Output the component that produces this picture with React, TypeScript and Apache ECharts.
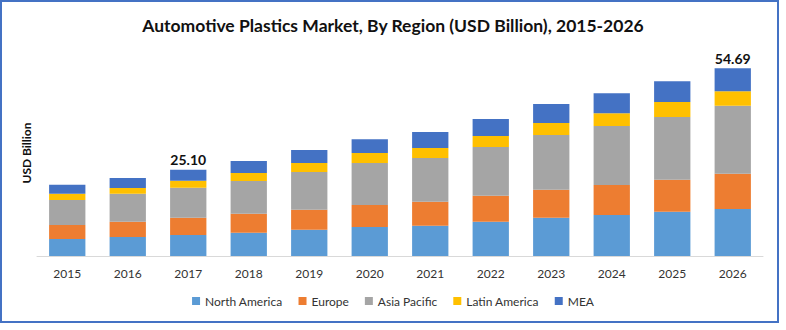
import React, { useEffect, useRef } from "react";
import * as echarts from "echarts";

const categories = ["2015", "2016", "2017", "2018", "2019", "2020", "2021", "2022", "2023", "2024", "2025", "2026"];
const northAmerica = [4.95, 5.53, 6.11, 6.78, 7.65, 8.44, 8.82, 9.98, 11.15, 11.93, 12.89, 13.68];
const europe = [4.08, 4.45, 5.04, 5.53, 5.82, 6.40, 6.98, 7.57, 8.15, 8.73, 9.31, 10.27];
const asiaPacific = [7.28, 8.15, 8.71, 9.52, 10.97, 12.22, 12.72, 14.17, 15.92, 17.17, 18.25, 19.79];
const latinAmerica = [1.83, 1.66, 2.04, 2.33, 2.62, 2.91, 2.91, 3.20, 3.49, 3.78, 4.37, 4.28];
const mea = [2.62, 2.91, 3.20, 3.49, 3.78, 4.07, 4.66, 4.95, 5.53, 5.82, 6.11, 6.67];
const labeledIndices = [2, 11];
const seriesNames = ["North America", "Europe", "Asia Pacific", "Latin America", "MEA"];
const colors = ["#5B9BD5", "#ED7D31", "#A5A5A5", "#FFC000", "#4472C4"];

const FONT = "Lato, 'Open Sans', sans-serif";

export default function App() {
  const ref = useRef<HTMLDivElement>(null);
  useEffect(() => {
    if (!ref.current) return;
    const chart = echarts.init(ref.current, null, { renderer: "svg" });
    const allData = [northAmerica, europe, asiaPacific, latinAmerica, mea];
    const totals = categories.map((_, i) => allData.reduce((s, arr) => s + arr[i], 0));
    const series = allData.map((d, k) => ({
      name: seriesNames[k],
      type: "bar",
      stack: "total",
      data: d,
      barCategoryGap: "40%",
      itemStyle: { color: colors[k] },
      label: k === allData.length - 1
        ? {
            show: true,
            position: "top",
            distance: 3,
            fontFamily: FONT,
            fontWeight: "bold",
            fontSize: 14,
            color: "#111",
            formatter: (p: any) => (labeledIndices.includes(p.dataIndex) ? totals[p.dataIndex].toFixed(2) : ""),
          }
        : { show: false },
    }));
    chart.setOption({
      animation: false,
      color: colors,
      title: {
        text: "Automotive Plastics Market, By Region (USD Billion), 2015-2026",
        left: "center",
        top: 11,
        textStyle: { fontFamily: FONT, fontWeight: "bold", fontSize: 17.5, color: "#111" },
      },
      legend: {
        data: seriesNames,
        bottom: 18,
        left: "center",
        icon: "rect",
        itemWidth: 8,
        itemHeight: 8,
        itemGap: 16,
        textStyle: { fontFamily: FONT, fontSize: 12, color: "#333" },
      },
      grid: { left: 37, right: 23, top: 50, bottom: 74 },
      xAxis: {
        type: "category",
        data: categories,
        axisLine: { lineStyle: { color: "#D9D9D9", width: 1 } },
        axisTick: { show: false },
        axisLabel: { fontFamily: FONT, fontSize: 12, color: "#333", margin: 11 },
      },
      yAxis: {
        type: "value",
        min: 0,
        max: 60,
        axisLine: { show: false },
        axisTick: { show: false },
        axisLabel: { show: false },
        splitLine: { show: false },
        name: "USD Billion",
        nameLocation: "middle",
        nameGap: 5,
        nameTextStyle: { fontFamily: FONT, fontWeight: "bold", fontSize: 12, color: "#111" },
      },
      graphic: [
        {
          type: "rect",
          shape: { x: 1, y: 1, width: 777, height: 321 },
          style: { fill: "none", stroke: "#4472C4", lineWidth: 2 },
          silent: true,
        },
      ],
      series,
    });
    return () => chart.dispose();
  }, []);
  return <div ref={ref} style={{ position: "fixed", left: 0, top: 0, width: 786, height: 330, background: "#fff" }} />;
}
